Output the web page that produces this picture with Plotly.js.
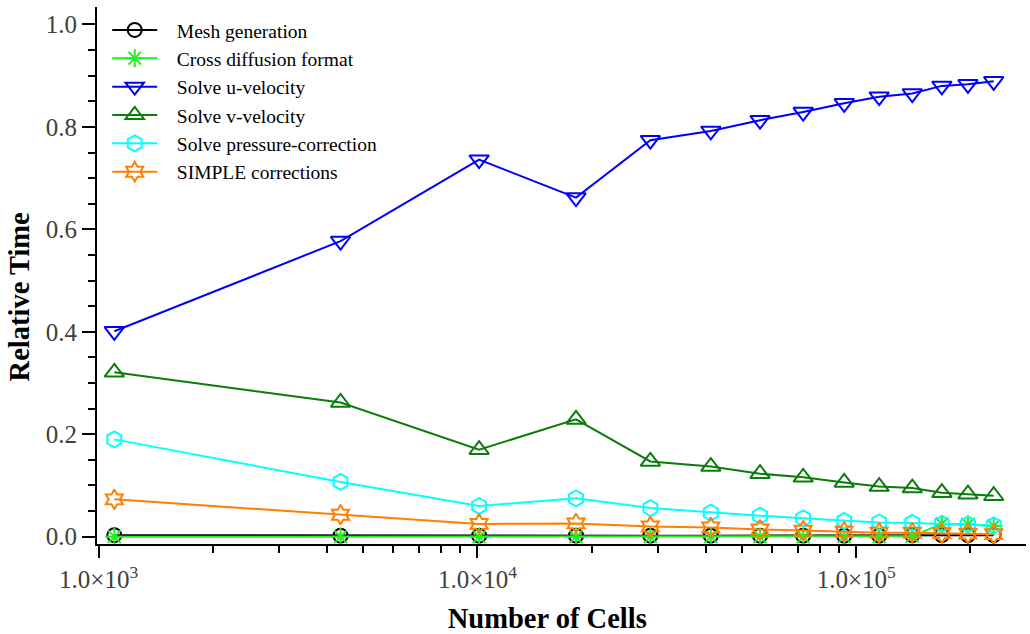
<!DOCTYPE html>
<html>
<head>
<meta charset="utf-8">
<script src="https://cdn.plot.ly/plotly-3.0.1.min.js"></script>
<style>
html,body{margin:0;padding:0;background:#fff;}
#chart{width:1030px;height:634px;}
</style>
</head>
<body>
<div id="chart"></div>
<script>
// Number of cells (x) for each test mesh
const cells = [1100, 4350, 10100, 18200, 28600, 41300, 55700, 72400, 92900, 114900, 140500, 168200, 197100, 230500];

// Relative time of each solver stage
const meshGeneration   = [0.003, 0.002, 0.002, 0.002, 0.002, 0.002, 0.002, 0.002, 0.002, 0.002, 0.003, 0.003, 0.003, 0.003];
const crossDiffusion   = [0.000, 0.000, 0.000, 0.000, 0.000, 0.000, 0.000, 0.000, 0.000, 0.000, 0.001, 0.025, 0.024, 0.021];
const solveU           = [0.401, 0.577, 0.736, 0.662, 0.774, 0.792, 0.813, 0.829, 0.846, 0.859, 0.865, 0.880, 0.883, 0.889];
const solveV           = [0.321, 0.262, 0.170, 0.229, 0.147, 0.137, 0.123, 0.116, 0.106, 0.098, 0.095, 0.086, 0.083, 0.080];
const solvePressure    = [0.190, 0.107, 0.060, 0.075, 0.056, 0.047, 0.041, 0.036, 0.031, 0.028, 0.027, 0.025, 0.024, 0.022];
const simpleCorrection = [0.073, 0.043, 0.025, 0.026, 0.020, 0.018, 0.014, 0.012, 0.010, 0.008, 0.008, 0.007, 0.006, 0.005];

const seriesNames = ["Mesh generation", "Cross diffusion format", "Solve u-velocity",
                     "Solve v-velocity", "Solve pressure-correction", "SIMPLE corrections"];

// Tick labels
const xTickVals = [1000, 10000, 100000];
const xTickText = ["1.0×10<sup>3</sup>", "1.0×10<sup>4</sup>", "1.0×10<sup>5</sup>"];
const yTickVals = [0.0, 0.2, 0.4, 0.6, 0.8, 1.0];
const yTickText = ["0.0", "0.2", "0.4", "0.6", "0.8", "1.0"];

const styles = [
  {color: "#000000", symbol: "circle-open",        size: 14},
  {color: "#22ee22", symbol: "asterisk-open",      size: 15},
  {color: "#0000ff", symbol: "triangle-down-open", size: 17},
  {color: "#0a7d0a", symbol: "triangle-up-open",   size: 17},
  {color: "#00ffff", symbol: "hexagon-open",       size: 16},
  {color: "#ff7f00", symbol: "hexagram-open",      size: 15}
];
const values = [meshGeneration, crossDiffusion, solveU, solveV, solvePressure, simpleCorrection];

const pad = "\u00a0\u00a0\u00a0";
const traces = values.map((v, i) => ({
  type: "scatter",
  mode: "lines+markers",
  name: pad + seriesNames[i],
  x: cells,
  y: v,
  line: {color: styles[i].color, width: 2},
  marker: {symbol: styles[i].symbol, size: styles[i].size, color: styles[i].color,
           line: {color: styles[i].color, width: 2}}
}));

// minor tick positions on the log axis (2..9 x 10^k)
const xMinor = [];
for (let k = 3; k <= 5; k++) for (let m = 2; m <= 9; m++) xMinor.push(m * Math.pow(10, k));

const serif = "Liberation Serif, Times New Roman, serif";
const tail = "\u00a0\u00a0\u00a0\u00a0";

const layout = {
  width: 1030, height: 634,
  paper_bgcolor: "#ffffff", plot_bgcolor: "#ffffff",
  margin: {l: 97, r: 4, t: 7, b: 90, pad: 0},
  showlegend: true,
  legend: {
    x: 0.011, y: 0.993, xanchor: "left", yanchor: "top",
    bgcolor: "rgba(0,0,0,0)", borderwidth: 0,
    font: {family: serif, size: 19.5, color: "#000"},
    itemwidth: 45, tracegroupgap: 0
  },
  xaxis: {
    type: "log",
    range: [Math.log10(990), Math.log10(280500)],
    tickmode: "array", tickvals: xTickVals, ticktext: xTickText,
    ticks: "outside", ticklen: 12, tickwidth: 2, tickcolor: "#000",
    minor: {tickmode: "array", tickvals: xMinor, ticks: "outside", ticklen: 7, tickwidth: 2, tickcolor: "#000", showgrid: false},
    showline: true, linecolor: "#000", linewidth: 2, mirror: false,
    showgrid: false, zeroline: false,
    tickfont: {family: serif, size: 25, color: "#404040"},
    title: {text: "<b>Number of Cells" + tail + "</b>", font: {family: serif, size: 28.5, color: "#000"}, standoff: 16}
  },
  yaxis: {
    range: [-0.0142, 1.034],
    tickmode: "array", tickvals: yTickVals, ticktext: yTickText,
    ticks: "outside", ticklen: 13, tickwidth: 2, tickcolor: "#000",
    minor: {dtick: 0.05, tick0: 0, ticks: "outside", ticklen: 7, tickwidth: 2, tickcolor: "#000", showgrid: false},
    showline: true, linecolor: "#000", linewidth: 2, mirror: false,
    showgrid: false, zeroline: false,
    tickfont: {family: serif, size: 25, color: "#404040"},
    title: {text: "<b>Relative Time\u00a0\u00a0\u00a0\u00a0\u00a0\u00a0</b>", font: {family: serif, size: 28.5, color: "#000"}, standoff: 8}
  }
};

Plotly.newPlot("chart", traces, layout, {displayModeBar: false, staticPlot: true});
</script>
</body>
</html>
